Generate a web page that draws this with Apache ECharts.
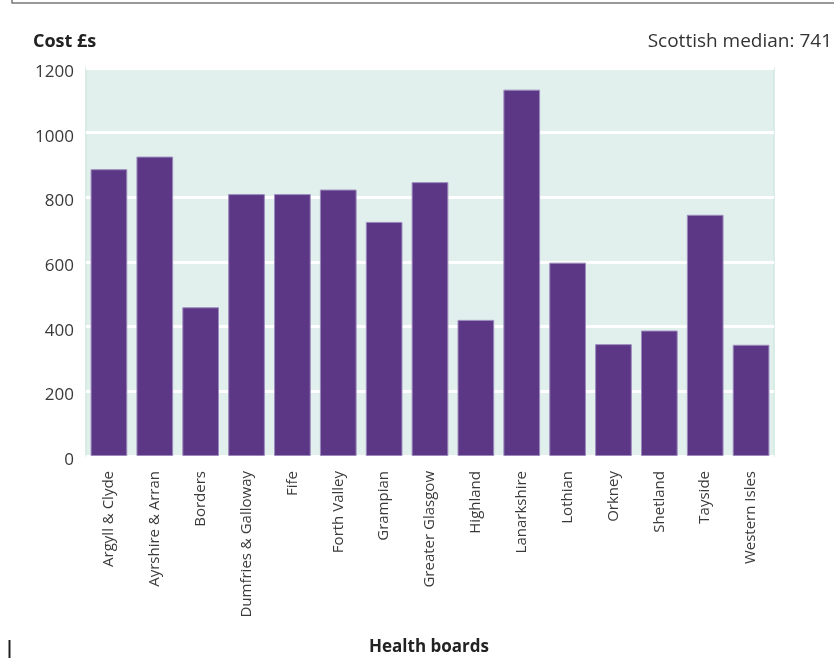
<!DOCTYPE html>
<html>
<head>
<meta charset="utf-8">
<script src="https://cdn.jsdelivr.net/npm/echarts@6/dist/echarts.min.js"></script>
<style>
html,body{margin:0;padding:0;background:#fff;}
#chart{width:834px;height:659px;}
</style>
</head>
<body>
<div id="chart"></div>
<script>
const categories = ["Argyll & Clyde","Ayrshire & Arran","Borders","Dumfries & Galloway","Fife","Forth Valley","Grampian","Greater Glasgow","Highland","Lanarkshire","Lothian","Orkney","Shetland","Tayside","Western Isles"];
const costValues = [887, 926, 460, 810, 810, 824, 724, 847, 421, 1133, 598, 346, 388, 746, 344];
const yTicks = [0, 200, 400, 600, 800, 1000, 1200];
const yAxisTitle = "Cost £s";
const xAxisTitle = "Health boards";
const medianNote = "Scottish median: 741";

const chart = echarts.init(document.getElementById('chart'), null, {renderer:'canvas'});
const font = "'Open Sans', 'Liberation Sans', sans-serif";
chart.setOption({
  animation:false,
  backgroundColor:'#ffffff',
  textStyle:{fontFamily:font},
  grid:{left:86,right:60,top:68,height:388,show:true,backgroundColor:'#e1f0ec',borderColor:'#cfe7df',borderWidth:1.5,containLabel:false},
  xAxis:{
    type:'category',data:categories,
    axisLine:{show:false},axisTick:{show:false},
    axisLabel:{rotate:90,interval:0,margin:15,fontSize:15,color:'#3a3a3a',fontFamily:font}
  },
  yAxis:{
    type:'value',min:yTicks[0],max:yTicks[yTicks.length-1],interval:200,
    axisLine:{show:false},axisTick:{show:false},
    axisLabel:{margin:12,fontSize:17,color:'#3a3a3a',fontFamily:font,
      formatter:function(v){return '{a|' + v + '}';},
      rich:{a:{fontSize:17,color:'#3a3a3a',fontFamily:font,padding:[8,0,0,0]}}},
    splitLine:{show:true,lineStyle:{color:'#ffffff',width:3}}
  },
  series:[{
    type:'bar',data:costValues,barCategoryGap:'20%',
    itemStyle:{color:'#5c3786',borderColor:'#9c8abd',borderWidth:1}
  }],
  graphic:[
    {type:'text',left:33,top:33,style:{text:yAxisTitle,fontSize:18,fontWeight:'bold',fill:'#222',fontFamily:font}},
    {type:'text',right:2,top:32,style:{text:medianNote,fontSize:19,fill:'#333',fontFamily:font}},
    {type:'text',left:369,top:639,style:{text:xAxisTitle,fontSize:17,fontWeight:'bold',fill:'#222',fontFamily:font}},
    {type:'line',shape:{x1:12,y1:3,x2:834,y2:3},style:{stroke:'#777',lineWidth:1.5}},
    {type:'line',shape:{x1:12,y1:0,x2:12,y2:3.5},style:{stroke:'#777',lineWidth:1.5}},
    {type:'rect',shape:{x:8.5,y:640,width:2,height:18},style:{fill:'#222'}}
  ]
});
</script>
</body>
</html>
